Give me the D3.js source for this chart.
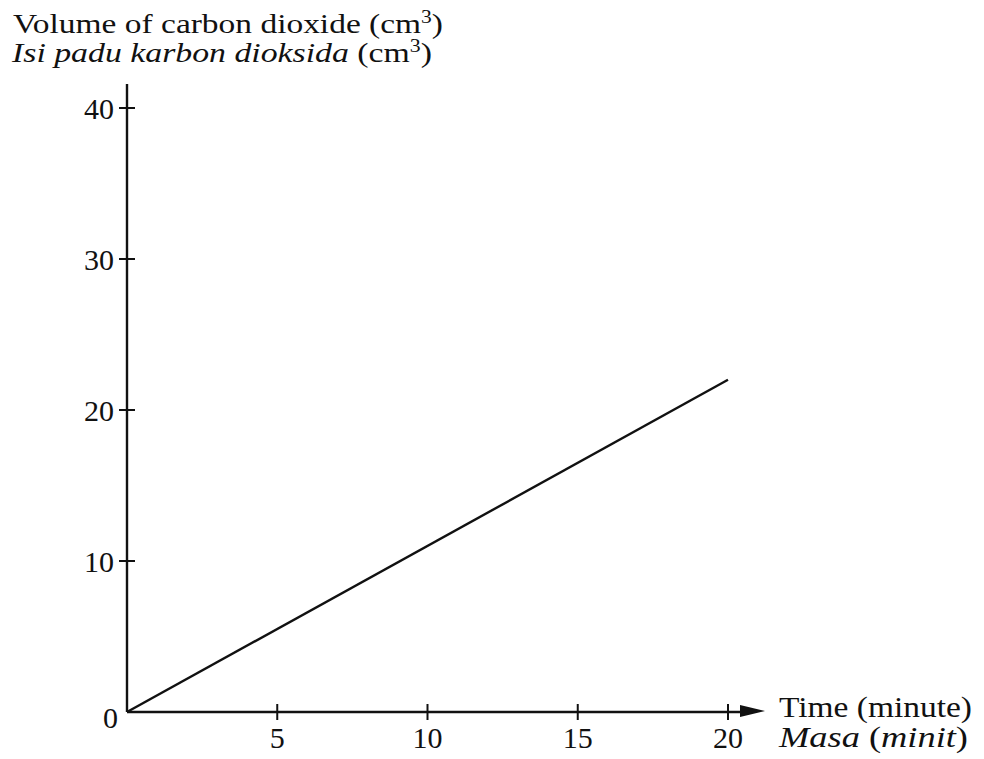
<!DOCTYPE html>
<html><head><meta charset="utf-8">
<script src="https://cdn.jsdelivr.net/npm/d3@7"></script>
<style>body{margin:0;background:#fff}svg{display:block}text{font-family:"Liberation Serif","Times New Roman",serif;fill:#111}</style>
</head><body><svg id="c" width="984" height="759"></svg>
<script>
const timeValues = [0, 20];
const volumeValues = [0, 22];
const xTicks = [5, 10, 15, 20];
const yTicks = [10, 20, 30, 40];

const svg = d3.select("#c");
const x = d3.scaleLinear().domain([0, 20]).range([127, 728]);
const y = d3.scaleLinear().domain([0, 40]).range([712, 108]);
const fs = 30;
const tfs = 28;

// Y axis
svg.append("line").attr("x1", x(0)).attr("x2", x(0)).attr("y1", 84).attr("y2", y(0))
  .attr("stroke", "#111").attr("stroke-width", 2.4);
// X axis
svg.append("line").attr("x1", x(0)).attr("x2", 745).attr("y1", y(0)).attr("y2", y(0))
  .attr("stroke", "#111").attr("stroke-width", 2.4);
svg.append("path").attr("d", `M740,${y(0)-7}L765,${y(0)-1}L740,${y(0)+5}Z`).attr("fill", "#111");

// Y ticks
svg.selectAll(".yt").data(yTicks).enter().append("line")
  .attr("x1", x(0) - 8).attr("x2", x(0) + 8).attr("y1", d => y(d)).attr("y2", d => y(d))
  .attr("stroke", "#111").attr("stroke-width", 2);
svg.selectAll(".yl").data(yTicks).enter().append("text")
  .attr("x", 114).attr("y", d => y(d) + 10.5).attr("text-anchor", "end")
  .attr("font-size", fs).text(d => d);
// X ticks
svg.selectAll(".xt").data(xTicks).enter().append("line")
  .attr("x1", d => x(d)).attr("x2", d => x(d)).attr("y1", y(0) - 8).attr("y2", y(0) + 8)
  .attr("stroke", "#111").attr("stroke-width", 2);
svg.selectAll(".xl").data(xTicks).enter().append("text")
  .attr("x", d => x(d)).attr("y", y(0) + 36).attr("text-anchor", "middle")
  .attr("font-size", fs).text(d => d);
svg.append("text").attr("x", 118).attr("y", y(0) + 16).attr("text-anchor", "end")
  .attr("font-size", fs).text("0");

// Data line
const pts = timeValues.map((t, i) => [t, volumeValues[i]]);
svg.append("path").datum(pts)
  .attr("d", d3.line().x(d => x(d[0])).y(d => y(d[1])))
  .attr("fill", "none").attr("stroke", "#111").attr("stroke-width", 2.4);

// Y title
const t1 = svg.append("text").attr("x", 13).attr("y", 33).attr("font-size", tfs)
  .attr("textLength", 430).attr("lengthAdjust", "spacingAndGlyphs");
t1.append("tspan").text("Volume of carbon dioxide (cm");
t1.append("tspan").attr("font-size", 18).attr("dy", -10).text("3");
t1.append("tspan").attr("dy", 10).text(")");
const t2 = svg.append("text").attr("x", 12).attr("y", 62).attr("font-size", tfs)
  .attr("textLength", 420).attr("lengthAdjust", "spacingAndGlyphs");
t2.append("tspan").attr("font-style", "italic").text("Isi padu karbon dioksida");
t2.append("tspan").text(" (cm");
t2.append("tspan").attr("font-size", 18).attr("dy", -10).text("3");
t2.append("tspan").attr("dy", 10).text(")");

// X title
svg.append("text").attr("x", 779).attr("y", 717).attr("font-size", fs)
  .attr("textLength", 193).attr("lengthAdjust", "spacingAndGlyphs").text("Time (minute)");
const t4 = svg.append("text").attr("x", 779).attr("y", 747).attr("font-size", fs)
  .attr("textLength", 189).attr("lengthAdjust", "spacingAndGlyphs");
t4.append("tspan").attr("font-style", "italic").text("Masa");
t4.append("tspan").text(" (");
t4.append("tspan").attr("font-style", "italic").text("minit");
t4.append("tspan").text(")");
</script></body></html>
